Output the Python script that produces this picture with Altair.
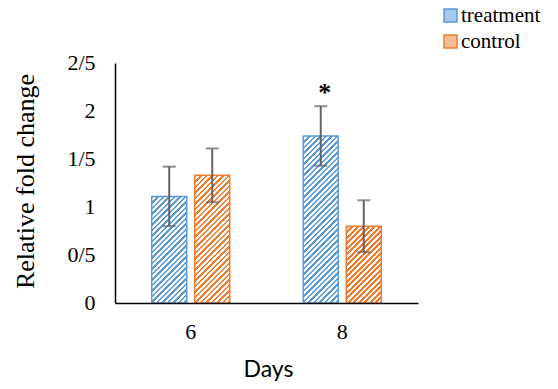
import altair as alt
import pandas as pd

# ---- data ----
days = ["6", "8"]
series_names = ["treatment", "control"]
treatment_values = [1.11, 1.74]
treatment_errors = [0.31, 0.31]
control_values = [1.33, 0.80]
control_errors = [0.28, 0.27]
treatment_marks = ["", "*"]
control_marks = ["", ""]
y_ticks = [0, 0.5, 1, 1.5, 2, 2.5]

# ---- styling ----
colors = ["#5B9BD5", "#ED7D31"]
tints = ["#A8CAEA", "#F5BC95"]
W, H = 303, 240
Y_MAX = 2.5
PX = H / Y_MAX
BAR_W = 35.0
PERIOD = 5.5
SERIF = "Liberation Serif"

rows = []
for i, d in enumerate(days):
    rows.append(dict(day=d, series="treatment", value=treatment_values[i],
                     err=treatment_errors[i], sig=treatment_marks[i]))
    rows.append(dict(day=d, series="control", value=control_values[i],
                     err=control_errors[i], sig=control_marks[i]))
df = pd.DataFrame(rows)
df["lo"] = df["value"] - df["err"]
df["hi"] = df["value"] + df["err"]


def hatch(color, value):
    """Diagonal '/' stripes built from a hard-stop linear gradient."""
    w = BAR_W
    h = value * PX
    k = (w + h) / (w * w + h * h)
    total = w + h
    stops = []
    s = 0.0
    while s < total:
        a = s / total
        b = min((s + PERIOD / 2) / total, 1.0)
        c = min((s + PERIOD) / total, 1.0)
        stops += [
            {"offset": a, "color": color},
            {"offset": b, "color": color},
            {"offset": b, "color": "#ffffff"},
            {"offset": c, "color": "#ffffff"},
        ]
        s += PERIOD
    return {"gradient": "linear", "x1": 0, "y1": 0, "x2": k * w, "y2": k * h, "stops": stops}


legend = alt.Legend(
    title=None, orient="none", legendX=325, legendY=-58,
    symbolType="square", symbolSize=169, symbolStrokeWidth=1.5, symbolOpacity=1,
    labelFont=SERIF, labelFontSize=21, labelColor="black", labelLimit=300,
    labelOffset=0, rowPadding=4, padding=0,
)

x_enc = alt.X(
    "day:N", sort=days,
    scale=alt.Scale(paddingInner=0.485, paddingOuter=0.2425),
    axis=alt.Axis(
        title="Days", labelAngle=0, ticks=False, tickSize=0, labelPadding=18,
        labelFont=SERIF, labelFontSize=22, labelColor="black",
        domainColor="black", domainWidth=1.5, grid=False,
        titleFont="Lato", titleFontSize=23, titleFontWeight="normal", titleColor="black",
        titleBaseline="alphabetic", titleY=73.5, titleX=153, zindex=1,
    ),
)
xoff_enc = alt.XOffset(
    "series:N", sort=series_names,
    scale=alt.Scale(domain=series_names, paddingInner=0.186, paddingOuter=0),
)
y_scale = alt.Scale(domain=[0, Y_MAX], nice=False)
y_axis = alt.Axis(
    title="Relative fold change", values=y_ticks,
    labelExpr="replace(format(datum.value, '.1~f'), '.', '/')",
    ticks=False, tickSize=0, labelPadding=20, labelOffset=-1,
    labelFont=SERIF, labelFontSize=22, labelColor="black",
    domainColor="black", domainWidth=1.5, grid=False,
    titleFont=SERIF, titleFontSize=26, titleFontWeight="normal", titleColor="black",
    titleBaseline="alphabetic", titleX=-82, titleY=118, titleAngle=270, zindex=1,
)

base = alt.Chart(df)

# hidden layer that feeds the legend's symbol fill
legend_layer = base.mark_point(shape="square", filled=True, opacity=0).encode(
    x=x_enc, xOffset=xoff_enc,
    y=alt.Y("value:Q", scale=y_scale, axis=y_axis),
    fill=alt.Fill("series:N", scale=alt.Scale(domain=series_names, range=tints), legend=legend),
)

bar_layers = []
for _, r in df.iterrows():
    ci = series_names.index(r["series"])
    bar_layers.append(
        base.transform_filter(
            (alt.datum.day == r["day"]) & (alt.datum.series == r["series"])
        ).mark_bar(fill=hatch(colors[ci], r["value"]), strokeWidth=1.5).encode(
            x=x_enc, xOffset=xoff_enc,
            y=alt.Y("value:Q", scale=y_scale, axis=y_axis),
            stroke=alt.Stroke("series:N", scale=alt.Scale(domain=series_names, range=colors), legend=legend),
        )
    )

err_rule = base.mark_rule(color="#636363", strokeWidth=2).encode(
    x=x_enc, xOffset=xoff_enc,
    y=alt.Y("lo:Q", scale=y_scale, axis=y_axis), y2="hi:Q",
)
cap_lo = base.mark_tick(color="#636363", thickness=2, size=13).encode(
    x=x_enc, xOffset=xoff_enc, y=alt.Y("lo:Q", scale=y_scale, axis=y_axis),
)
cap_hi = base.mark_tick(color="#636363", thickness=2, size=13).encode(
    x=x_enc, xOffset=xoff_enc, y=alt.Y("hi:Q", scale=y_scale, axis=y_axis),
)
stars = base.transform_filter(alt.datum.sig != "").mark_text(
    font=SERIF, fontSize=26, fontWeight="bold", color="black", baseline="alphabetic", dy=-5, dx=4,
).encode(
    x=x_enc, xOffset=xoff_enc, y=alt.Y("hi:Q", scale=y_scale, axis=y_axis), text="sig:N",
)

chart = alt.layer(legend_layer, *bar_layers, err_rule, cap_lo, cap_hi, stars).properties(
    width=W, height=H,
    autosize=alt.AutoSizeParams(type="none"),
    padding={"left": 107, "top": 55, "right": 132, "bottom": 78},
    background="white",
).configure_view(
    strokeWidth=0
).configure_axis(
    labelFont=SERIF, titleFont=SERIF, titleFontWeight="normal"
).configure_axisX(
    titleFont="Lato"
).configure_legend(
    labelFont=SERIF, labelFontSize=21, labelLimit=300
)

chart.save("out.html", embed_options={"renderer": "svg", "actions": False})
